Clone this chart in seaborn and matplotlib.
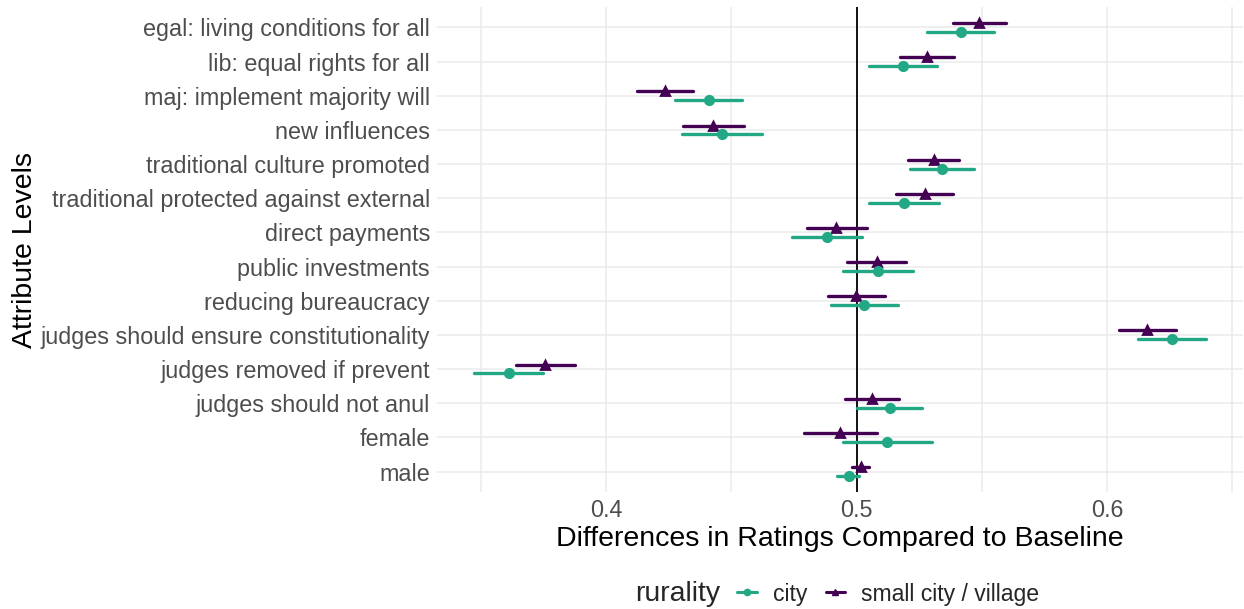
import numpy as np
import pandas as pd
import matplotlib
matplotlib.use("Agg")
import matplotlib.pyplot as plt
from matplotlib.lines import Line2D
from matplotlib.ticker import FixedLocator
import seaborn as sns

# Attribute levels, top to bottom
levels = [
    "egal: living conditions for all",
    "lib: equal rights for all",
    "maj: implement majority will",
    "new influences",
    "traditional culture promoted",
    "traditional protected against external",
    "direct payments",
    "public investments",
    "reducing bureaucracy",
    "judges should ensure constitutionality",
    "judges removed if prevent",
    "judges should not anul",
    "female",
    "male",
]

# Estimates with lower / upper interval bounds
city_est = [0.5415, 0.5184, 0.4410, 0.4463, 0.5341, 0.5189, 0.4881, 0.5087, 0.5031, 0.6260, 0.3612, 0.5133, 0.5121, 0.4970]
city_lo  = [0.5280, 0.5050, 0.4275, 0.4302, 0.5213, 0.5050, 0.4741, 0.4947, 0.4898, 0.6122, 0.3474, 0.5000, 0.4944, 0.4923]
city_hi  = [0.5550, 0.5320, 0.4544, 0.4623, 0.5469, 0.5329, 0.5020, 0.5224, 0.5164, 0.6395, 0.3750, 0.5262, 0.5301, 0.5010]

small_est = [0.5490, 0.5282, 0.4237, 0.4428, 0.5309, 0.5273, 0.4918, 0.5080, 0.4998, 0.6160, 0.3758, 0.5060, 0.4934, 0.5016]
small_lo  = [0.5386, 0.5173, 0.4126, 0.4306, 0.5206, 0.5157, 0.4801, 0.4960, 0.4885, 0.6048, 0.3641, 0.4954, 0.4790, 0.4980]
small_hi  = [0.5596, 0.5389, 0.4346, 0.4551, 0.5410, 0.5386, 0.5040, 0.5196, 0.5113, 0.6276, 0.3876, 0.5169, 0.5080, 0.5050]

groups = ["city", "small city / village"]
palette = {"city": "#22A884", "small city / village": "#440154"}

# Long table: each level/group holds (lo, est, hi); the median gives the
# estimate and the full percentile interval gives the bounds.
rows = []
for grp, est, lo, hi in [("city", city_est, city_lo, city_hi),
                         ("small city / village", small_est, small_lo, small_hi)]:
    for lev, e, l, h in zip(levels, est, lo, hi):
        for v in (l, e, h):
            rows.append({"level": lev, "rurality": grp, "value": v})
df = pd.DataFrame(rows)

sns.set_theme(style="whitegrid")
plt.rcParams["font.family"] = ["Liberation Sans", "DejaVu Sans"]

W, H = 1244, 609
fig = plt.figure(figsize=(W / 100, H / 100), dpi=100)
ax = fig.add_axes([437 / W, 1 - 492 / H, (1243 - 437) / W, (492 - 7) / H])

sns.pointplot(
    data=df, x="value", y="level", hue="rurality", order=levels,
    hue_order=["small city / village", "city"], palette=palette,
    estimator="median", errorbar=("pi", 100), dodge=0.26,
    markers=["^", "o"], linestyle="none", markersize=6,
    err_kws={"linewidth": 2.4}, legend=False, ax=ax,
)

ax.axvline(0.5, color="black", linewidth=1.3, zorder=1)

ax.set_xlim(0.3326, 0.6542)
ax.set_ylim(13.6, -0.6)
ax.xaxis.set_major_locator(FixedLocator([0.4, 0.5, 0.6]))
ax.xaxis.set_minor_locator(FixedLocator([0.35, 0.45, 0.55, 0.65]))
ax.set_xticklabels(["0.4", "0.5", "0.6"])
ax.grid(True, which="major", color="#EBEBEB", linewidth=1.1)
ax.grid(True, which="minor", axis="x", color="#EBEBEB", linewidth=1.1)
ax.set_axisbelow(True)
for s in ax.spines.values():
    s.set_visible(False)
ax.tick_params(axis="both", which="both", length=0, labelsize=16.8,
               labelcolor="#4D4D4D")
ax.tick_params(axis="y", pad=5)
ax.tick_params(axis="x", pad=5)
ax.set_facecolor("white")

ax.set_xlabel("Differences in Ratings Compared to Baseline", fontsize=20.5,
              color="black")
ax.xaxis.set_label_coords(0.5, -0.071)
ax.set_ylabel("Attribute Levels", fontsize=20.5, color="black")
ax.yaxis.set_label_coords(-(437 - 25) / 806, 0.5)
ax.yaxis.label.set_verticalalignment("center")

# Legend laid out horizontally with the title on the left
ly = 1 - 594 / H
fig.text(635 / W, ly, "rurality", fontsize=20.5, va="center", ha="left")
handles = [
    Line2D([0], [0], color=palette["city"], marker="o", markersize=4.5, linewidth=2.2),
    Line2D([0], [0], color=palette["small city / village"], marker="^", markersize=5, linewidth=2.2),
]
fig.legend(handles, groups, ncol=2, loc="center left",
           bbox_to_anchor=(737 / W, ly), frameon=False, fontsize=16.6,
           handlelength=0.85, handletextpad=0.7, columnspacing=0.8,
           borderaxespad=0, borderpad=0)

fig.savefig("out.png", dpi=100, facecolor="white")
